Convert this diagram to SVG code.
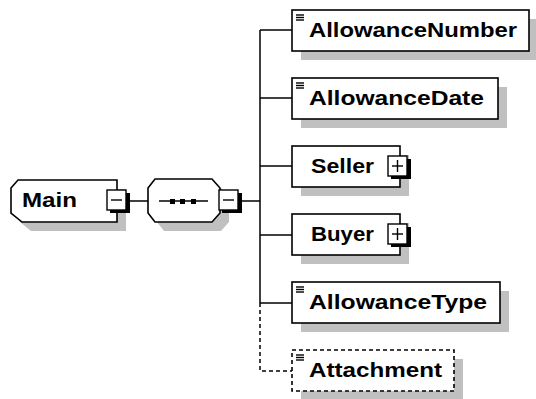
<svg xmlns="http://www.w3.org/2000/svg" width="536" height="399" viewBox="0 0 536 399">
<defs>
<style>
.shadow{fill:#c0c0c0;stroke:none}
.box{fill:#fff;stroke:#000;stroke-width:1.6}
.dbox{fill:#fff;stroke:#000;stroke-width:1.6;stroke-dasharray:4,3}
.lbl{font-family:"Liberation Sans",Arial,sans-serif;font-weight:bold;font-size:21px;fill:#000}
.ln{stroke:#000;stroke-width:1.5;fill:none}
.dl{stroke:#000;stroke-width:1.5;fill:none;stroke-dasharray:4,3}
.icon{stroke:#000;stroke-width:1.4}
.btn{fill:#fff;stroke:#000;stroke-width:1.4}
.bsh{fill:#000}
</style>
</defs>
<rect width="536" height="399" fill="#fff"/>
<g id="connectors">
<line class="ln" x1="130" y1="201" x2="148" y2="201"/>
<line class="ln" x1="240" y1="201" x2="260" y2="201"/>
<line class="ln" x1="260" y1="30" x2="260" y2="303"/>
<line class="ln" x1="260" y1="30" x2="292" y2="30"/>
<line class="ln" x1="260" y1="98" x2="292" y2="98"/>
<line class="ln" x1="260" y1="166" x2="292" y2="166"/>
<line class="ln" x1="260" y1="235" x2="292" y2="235"/>
<line class="ln" x1="260" y1="303" x2="292" y2="303"/>
<polyline class="dl" points="260,303 260,371 292,371"/>
</g>
<g id="Main">
<polygon class="shadow" points="20,197 27,189 126,189 126,231 31,231 20,222"/>
<polygon class="box" points="11,188 18,180 117,180 117,222 22,222 11,213"/>
<text class="lbl" x="22" y="207" textLength="55" lengthAdjust="spacingAndGlyphs">Main</text>
<rect class="bsh" x="110" y="193" width="20" height="20"/>
<rect class="btn" x="107" y="190" width="19" height="20"/>
<line class="icon" x1="111" y1="200" x2="122" y2="200"/>
</g>
<g id="sequence">
<polygon class="shadow" points="157,197 164,188 221,188 229,197 229,222 221,231 164,231 157,222"/>
<polygon class="box" points="148,188 155,179 212,179 220,188 220,213 212,222 155,222 148,213"/>
<line class="ln" x1="159" y1="201" x2="208" y2="201"/>
<rect x="170" y="199" width="5" height="5" fill="#000"/>
<rect x="180" y="199" width="5" height="5" fill="#000"/>
<rect x="191" y="199" width="5" height="5" fill="#000"/>
<rect class="bsh" x="222" y="193" width="20" height="20"/>
<rect class="btn" x="219" y="190" width="19" height="20"/>
<line class="icon" x1="223" y1="200" x2="234" y2="200"/>
</g>
<g id="AllowanceNumber">
<rect class="shadow" x="301" y="19" width="237" height="41"/>
<rect class="box" x="292" y="10" width="237" height="41"/>
<line class="icon" x1="296" y1="15" x2="304" y2="15"/>
<line class="icon" x1="296" y1="17.5" x2="304" y2="17.5"/>
<line class="icon" x1="296" y1="20" x2="304" y2="20"/>
<text class="lbl" x="309" y="37" textLength="208" lengthAdjust="spacingAndGlyphs">AllowanceNumber</text>
</g>
<g id="AllowanceDate">
<rect class="shadow" x="301" y="87" width="206" height="41"/>
<rect class="box" x="292" y="78" width="206" height="41"/>
<line class="icon" x1="296" y1="83" x2="304" y2="83"/>
<line class="icon" x1="296" y1="85.5" x2="304" y2="85.5"/>
<line class="icon" x1="296" y1="88" x2="304" y2="88"/>
<text class="lbl" x="309" y="105" textLength="175" lengthAdjust="spacingAndGlyphs">AllowanceDate</text>
</g>
<g id="Seller">
<rect class="shadow" x="301" y="155" width="108" height="41"/>
<rect class="box" x="292" y="146" width="108" height="41"/>
<text class="lbl" x="311" y="173" textLength="63" lengthAdjust="spacingAndGlyphs">Seller</text>
<rect class="bsh" x="391" y="159" width="20" height="20"/>
<rect class="btn" x="388" y="156" width="19" height="20"/>
<line class="icon" x1="392" y1="166" x2="403" y2="166"/>
<line class="icon" x1="397.5" y1="160" x2="397.5" y2="172"/>
</g>
<g id="Buyer">
<rect class="shadow" x="301" y="223" width="108" height="41"/>
<rect class="box" x="292" y="214" width="108" height="41"/>
<text class="lbl" x="311" y="241" textLength="63" lengthAdjust="spacingAndGlyphs">Buyer</text>
<rect class="bsh" x="391" y="227" width="20" height="20"/>
<rect class="btn" x="388" y="224" width="19" height="20"/>
<line class="icon" x1="392" y1="234" x2="403" y2="234"/>
<line class="icon" x1="397.5" y1="228" x2="397.5" y2="240"/>
</g>
<g id="AllowanceType">
<rect class="shadow" x="301" y="291" width="208" height="41"/>
<rect class="box" x="292" y="282" width="208" height="41"/>
<line class="icon" x1="296" y1="287" x2="304" y2="287"/>
<line class="icon" x1="296" y1="289.5" x2="304" y2="289.5"/>
<line class="icon" x1="296" y1="292" x2="304" y2="292"/>
<text class="lbl" x="309" y="309" textLength="178" lengthAdjust="spacingAndGlyphs">AllowanceType</text>
</g>
<g id="Attachment">
<rect class="shadow" x="301" y="359" width="162" height="41"/>
<rect class="dbox" x="292" y="350" width="162" height="41"/>
<line class="icon" x1="296" y1="355" x2="304" y2="355"/>
<line class="icon" x1="296" y1="357.5" x2="304" y2="357.5"/>
<line class="icon" x1="296" y1="360" x2="304" y2="360"/>
<text class="lbl" x="309" y="377" textLength="133" lengthAdjust="spacingAndGlyphs">Attachment</text>
</g>
</svg>
